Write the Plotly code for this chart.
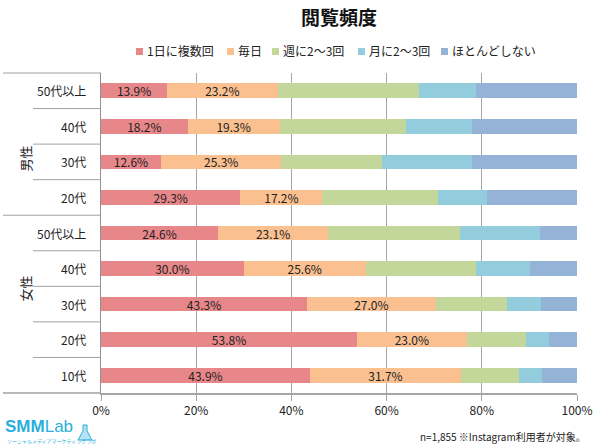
import plotly.graph_objects as go

groups = ["男性", "女性"]
ages = ["50代以上", "40代", "30代", "20代", "50代以上", "40代", "30代", "20代", "10代"]
series_names = ["1日に複数回", "毎日", "週に2〜3回", "月に2〜3回", "ほとんどしない"]
multi_per_day = [13.9, 18.2, 12.6, 29.3, 24.6, 30.0, 43.3, 53.8, 43.9]
daily = [23.2, 19.3, 25.3, 17.2, 23.1, 25.6, 27.0, 23.0, 31.7]
weekly = [29.8, 26.6, 21.1, 24.2, 27.7, 23.2, 15.0, 12.5, 12.2]
monthly = [11.9, 13.9, 18.9, 10.3, 16.8, 11.3, 7.1, 4.9, 4.8]
rarely = [21.2, 22.0, 22.1, 19.0, 7.8, 9.9, 7.6, 5.8, 7.4]
x_ticks = [0, 20, 40, 60, 80, 100]
x_tick_labels = ["0%", "20%", "40%", "60%", "80%", "100%"]

colors = ["#E8878A", "#FAC090", "#C4D79B", "#93CDDD", "#95B3D7"]
values = [multi_per_day, daily, weekly, monthly, rarely]
FONT = "Noto Sans CJK JP"

rows = list(range(len(ages)))
fig = go.Figure()
for i, (name, vals) in enumerate(zip(series_names, values)):
    show_text = i < 2
    fig.add_trace(go.Bar(
        y=rows, x=vals, name=name, orientation="h",
        marker=dict(color=colors[i], line=dict(width=0)),
        width=0.41,
        text=[f"{v:.1f}%" for v in vals] if show_text else None,
        textposition="inside" if show_text else "none",
        insidetextanchor="middle",
        textangle=0,
        insidetextfont=dict(size=12, color="#222222", family=FONT),
        constraintext="none",
        showlegend=False,
    ))

W, H = 600, 444
L, R, T, B = 101, 23, 73, 51
pw, ph = W - L - R, H - T - B

def px_x(p):
    return (p - L) / pw

def px_y(p):
    return 1 - (p - T) / ph

n = len(ages)
annotations = []
shapes = []
for i, a in enumerate(ages):
    annotations.append(dict(
        x=px_x(88), y=1 - (i + 0.5) / n, xref="paper", yref="paper",
        text=a, showarrow=False, xanchor="right", yanchor="middle",
        font=dict(size=12, color="#222222", family=FONT)))

annotations.append(dict(x=px_x(14), y=1 - 2 / n, xref="paper", yref="paper",
                        text=groups[0], showarrow=False, textangle=-90,
                        font=dict(size=13, color="#222222", family=FONT)))
annotations.append(dict(x=px_x(14), y=1 - 6.5 / n, xref="paper", yref="paper",
                        text=groups[1], showarrow=False, textangle=-90,
                        font=dict(size=13, color="#222222", family=FONT)))

line_col = "#A0A0A0"
for k in range(n + 1):
    y = 1 - k / n
    x0 = px_x(3) if k in (0, 4, n) else px_x(33)
    shapes.append(dict(type="line", xref="paper", yref="paper", x0=x0, x1=0,
                       y0=y, y1=y, line=dict(color=line_col, width=1.5 if k == n else 1)))

# legend (drawn manually to match compact spacing)
legend_x = [136, 227, 272, 358, 441]
for name, col, lx in zip(series_names, colors, legend_x):
    shapes.append(dict(type="rect", xref="paper", yref="paper",
                       x0=px_x(lx), x1=px_x(lx + 7), y0=px_y(48), y1=px_y(55),
                       line=dict(width=0), fillcolor=col))
    annotations.append(dict(x=px_x(lx + 9), y=px_y(51), xref="paper", yref="paper",
                            text=name, showarrow=False, xanchor="left", yanchor="middle",
                            font=dict(size=12, color="#222222", family=FONT)))

annotations.append(dict(x=px_x(588), y=px_y(436), xref="paper", yref="paper",
                        text="n=1,855 ※Instagram利用者が対象。", showarrow=False,
                        xanchor="right", yanchor="middle",
                        font=dict(size=10, color="#222222", family=FONT)))
annotations.append(dict(x=px_x(3), y=px_y(426), xref="paper", yref="paper",
                        text="<b>SMM</b>Lab", showarrow=False,
                        xanchor="left", yanchor="middle",
                        font=dict(size=17, color="#2AAEDD", family="Liberation Sans")))
annotations.append(dict(x=px_x(5), y=px_y(441), xref="paper", yref="paper",
                        text="ソーシャルメディアマーケティングラボ", showarrow=False,
                        xanchor="left", yanchor="middle",
                        font=dict(size=5, color="#2AAEDD", family=FONT)))
fx, fy = 85, 440
flask = (f"M {px_x(fx-2)} {px_y(fy-15)} L {px_x(fx-2)} {px_y(fy-9)} L {px_x(fx-7)} {px_y(fy)} "
         f"L {px_x(fx+7)} {px_y(fy)} L {px_x(fx+2)} {px_y(fy-9)} L {px_x(fx+2)} {px_y(fy-15)} Z")
shapes.append(dict(type="path", xref="paper", yref="paper", path=flask,
                   line=dict(color="#2AAEDD", width=1), fillcolor="rgba(42,174,221,0.35)"))

fig.update_layout(
    width=W, height=H,
    margin=dict(l=L, r=R, t=T, b=B, pad=0, autoexpand=False),
    paper_bgcolor="white", plot_bgcolor="white",
    barmode="stack",
    showlegend=False,
    font=dict(family=FONT, size=12, color="#222222"),
    title=dict(text="<b>閲覧頻度</b>", x=0.5, xref="paper", y=1 - 18 / H,
               xanchor="center", yanchor="middle",
               font=dict(size=19, color="#111111", family=FONT)),
    xaxis=dict(range=[0, 100], tickvals=x_ticks, ticktext=x_tick_labels,
               showgrid=True, gridcolor="#A6A6A6", gridwidth=1,
               zeroline=False, showline=True, linecolor="#A6A6A6", linewidth=1.5,
               ticks="outside", ticklen=6, tickcolor="#A6A6A6",
               tickfont=dict(size=12, family=FONT, color="#222222"),
               automargin=False, fixedrange=True),
    yaxis=dict(range=[n - 0.5, -0.5], tickvals=rows, showticklabels=False,
               showgrid=False, zeroline=False, showline=True, linecolor="#909090",
               linewidth=1, ticks="", automargin=False, fixedrange=True),
    annotations=annotations,
    shapes=shapes,
)
fig.write_html("out.html", config={"displayModeBar": False},
               post_script="document.body.style.margin='0';document.body.style.overflow='hidden';")
